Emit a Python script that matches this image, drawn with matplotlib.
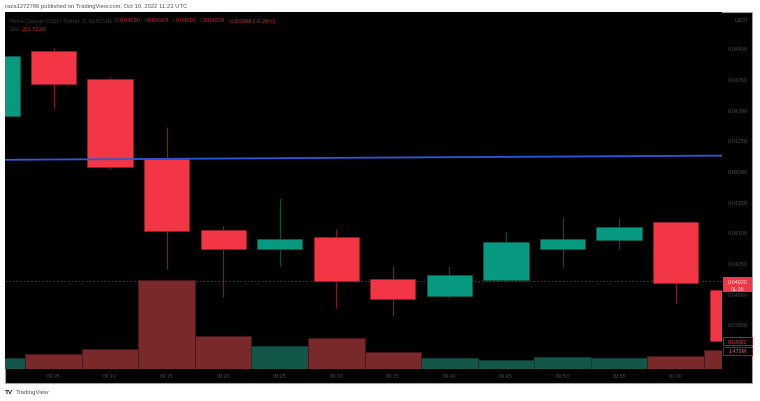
import matplotlib
matplotlib.use("Agg")
import matplotlib.pyplot as plt
from matplotlib.patches import Rectangle
from matplotlib.text import Annotation

plt.rcParams['font.family'] = ['Liberation Sans', 'DejaVu Sans']

# ---------------- data ----------------
times = ["09:00", "09:05", "09:10", "09:15", "09:20", "09:25", "09:30",
         "09:35", "09:40", "09:45", "09:50", "09:55", "10:00", "10:05"]
opens = [0.04289, 0.04395, 0.04349, 0.04219, 0.04103, 0.04072, 0.04092,
         0.04023, 0.03996, 0.04022, 0.04072, 0.04087, 0.04116, 0.04005]
highs = [0.04387, 0.04400, 0.04353, 0.04271, 0.04110, 0.04155, 0.04105,
         0.04045, 0.04045, 0.04100, 0.04124, 0.04123, 0.04117, 0.04005]
lows = [0.04289, 0.04302, 0.04203, 0.04040, 0.03994, 0.04045, 0.03976,
        0.03963, 0.03992, 0.04020, 0.04043, 0.04072, 0.03984, 0.03922]
closes = [0.04387, 0.04341, 0.04206, 0.04102, 0.04072, 0.04089, 0.04020,
          0.03991, 0.04030, 0.04084, 0.04089, 0.04108, 0.04017, 0.03922]
volumes_m = [0.85, 1.16, 1.55, 6.90, 2.56, 1.78, 2.40,
             1.32, 0.85, 0.70, 0.93, 0.85, 1.00, 1.472]
time_labels = ["09:05", "09:10", "09:15", "09:20", "09:25", "09:30",
               "09:35", "09:40", "09:45", "09:50", "09:55", "10:00"]
price_ticks = [0.03950, 0.04000, 0.04050, 0.04100, 0.04150, 0.04200,
               0.04250, 0.04300, 0.04350, 0.04400]
trend_times = ["09:00", "10:05"]
trend_values = [0.04218, 0.04225]
last_price = 0.04020
last_price_text = "0.04020"
countdown_text = "01:38"
low_label_value = 0.03922
low_label_text = "0.03922"
last_volume_text = "1.472M"
header_parts = [("Terra Classic USD / Tether, 5, KUCOIN  ", "g"), ("O", "g"),
                ("0.04030", "r"), ("  H", "g"), ("0.04043", "r"), ("  L", "g"),
                ("0.04007", "r"), ("  C", "g"), ("0.04020", "r"),
                ("  -0.00008 (-0.20%)", "r")]
vol_parts = [("Vol  ", "g"), ("221.523K", "r")]
attribution = "raza1272786 published on TradingView.com, Oct 10, 2022 11:23 UTC"

# ---------------- style ----------------
UP, DOWN = "#089981", "#f23645"
UP_EDGE, DOWN_EDGE = "#0a5e50", "#9a1f2a"
UP_WICK, DOWN_WICK = "#0c4b41", "#7e1b24"
VOL_UP, VOL_DOWN = "#12574a", "#7a292b"
AXIS_TXT = "#4a4a4a"
RED_TXT = "#c9202c"

W, H = 760, 402
fig = plt.figure(figsize=(W / 100, H / 100), dpi=100)
fig.patch.set_facecolor("white")

def fx(px):
    return px / W

def fy(py):
    return 1 - py / H

# black chart panel with grey border
fig.patches.append(Rectangle((fx(5), fy(384)), fx(747), 371 / H, transform=fig.transFigure,
                             facecolor="black", edgecolor="#a0a0a0", linewidth=0.8, zorder=-5))

rect = [fx(5), fy(370), fx(717), 357 / H]
ax_vol = fig.add_axes(rect)
ax = fig.add_axes(rect, sharex=ax_vol)
ax_vol.set_facecolor("black")
ax.set_facecolor("none")

x = list(range(len(times)))
xi = {t: i for i, t in enumerate(times)}

# volume bars
vcols = [VOL_UP if c >= o else VOL_DOWN for o, c in zip(opens, closes)]
vedge = ["#0b3a32" if c >= o else "#4a1518" for o, c in zip(opens, closes)]
ax_vol.bar(x, [v * 1e6 for v in volumes_m], width=1.0, color=vcols, edgecolor=vedge, linewidth=0.6)
ax_vol.set_ylim(0, 27.66e6)

# candles
for i in x:
    o, h, l, c = opens[i], highs[i], lows[i], closes[i]
    up = c >= o
    ax.vlines(i, l, h, color=UP_WICK if up else DOWN_WICK, linewidth=0.9, zorder=2)
    ax.bar(i, abs(c - o), bottom=min(o, c), width=0.8,
           color=UP if up else DOWN, edgecolor=UP_EDGE if up else DOWN_EDGE,
           linewidth=0.5, zorder=3)

# trend line
ax.plot([xi[t] for t in trend_times], trend_values, color="#2a5bd7", linewidth=1.3, zorder=4)
# last price dotted line
ax.axhline(last_price, color="#8a1c24", linewidth=0.8, linestyle=(0, (1.5, 1.8)), zorder=1)

ax.set_xlim(0.142, 12.82)
ax.set_ylim(0.03877, 0.04459)

# axes cosmetics
for a in (ax, ax_vol):
    for s in a.spines.values():
        s.set_visible(False)
ax_vol.set_yticks([])
ax_vol.set_xticks([xi[t] for t in time_labels])
ax_vol.set_xticklabels(time_labels)
ax_vol.tick_params(axis="x", length=0, pad=3.2, labelsize=3.9, labelcolor=AXIS_TXT)
ax.tick_params(axis="x", which="both", bottom=False, labelbottom=False)
ax.yaxis.tick_right()
ax.set_yticks(price_ticks)
ax.set_yticklabels([f"{p:.5f}" for p in price_ticks])
ax.tick_params(axis="y", length=0, pad=4.5, labelsize=3.9, labelcolor=AXIS_TXT)

# right-side labels (pixel positions derived from data scales)
def y_px_price(p):
    return H - ax.transData.transform((0, p))[1]

def y_px_vol(v):
    return H - ax_vol.transData.transform((0, v))[1]

yp = y_px_price(last_price)
fig.patches.append(Rectangle((fx(723), fy(yp + 11)), fx(29), 15 / H, transform=fig.transFigure,
                             facecolor=DOWN, edgecolor="none", zorder=5))
fig.text(fx(737.5), fy(yp), last_price_text, ha="center", va="center", fontsize=3.9,
         color="#ffe4e4", zorder=6)
fig.text(fx(737.5), fy(yp + 7), countdown_text, ha="center", va="center", fontsize=3.9,
         color="#ffe4e4", zorder=6)

yl = y_px_price(low_label_value)
fig.patches.append(Rectangle((fx(723), fy(yl + 4)), fx(29), 8 / H, transform=fig.transFigure,
                             facecolor="black", edgecolor="#a02530", linewidth=0.7, zorder=5))
fig.text(fx(737.5), fy(yl), low_label_text, ha="center", va="center", fontsize=3.9,
         color="#e0404a", zorder=6)

yv = y_px_vol(volumes_m[-1] * 1e6) + 0.5
fig.patches.append(Rectangle((fx(723), fy(yv + 4)), fx(29), 8 / H, transform=fig.transFigure,
                             facecolor="black", edgecolor="#7a2a2b", linewidth=0.7, zorder=5))
fig.text(fx(737.5), fy(yv), last_volume_text, ha="center", va="center", fontsize=3.9,
         color="#d86a6a", zorder=6)

fig.text(fx(742), fy(20.5), "USDT", ha="center", va="center", fontsize=3.9, color=AXIS_TXT)

# header legend lines
def chain(parts, x0, y0, size):
    last = None
    for txt, c in parts:
        col = "#3c3c3c" if c == "g" else RED_TXT
        if last is None:
            last = fig.text(fx(x0), fy(y0), txt, ha="left", va="center", fontsize=size, color=col)
        else:
            last = fig.add_artist(Annotation(
                txt, xy=(1, 0.5), xycoords=last, xytext=(0, 0), textcoords="offset points",
                ha="left", va="center", fontsize=size, color=col, annotation_clip=False))

chain(header_parts, 10, 21, 4.2)
chain(vol_parts, 10, 29.5, 4.2)

# attribution and logo
fig.text(fx(5), fy(6.5), attribution, ha="left", va="center", fontsize=4.2, color="#555555")
fig.text(fx(5), fy(393), "TV", ha="left", va="center", fontsize=4.6, color="#131722",
         fontweight="bold")
fig.text(fx(15.5), fy(393), "TradingView", ha="left", va="center", fontsize=4.4, color="#555555")

fig.savefig("out.png", dpi=100, facecolor="white")
